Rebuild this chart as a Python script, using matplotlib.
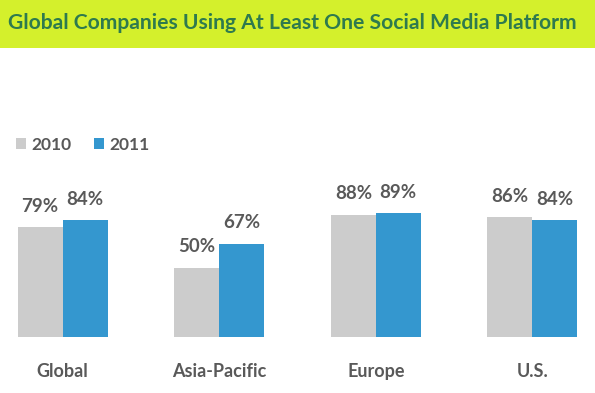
import matplotlib
matplotlib.use("Agg")
import matplotlib.pyplot as plt
from matplotlib.patches import Rectangle
import numpy as np

plt.rcParams['font.family'] = ['Lato', 'DejaVu Sans']

# dados do gráfico
regioes = ["Global", "Asia-Pacific", "Europe", "U.S."]
anos = ["2010", "2011"]
valores_2010 = [79, 50, 88, 86]
valores_2011 = [84, 67, 89, 84]

cor_2010 = "#cccccc"
cor_2011 = "#3497cf"
cor_texto = "#595959"

W, H = 595, 393
fig = plt.figure(figsize=(W / 100, H / 100), dpi=100)
fig.patch.set_facecolor("white")

# faixa do título
fig.patches.append(Rectangle((0, 1 - 48 / H), 1, 48 / H, transform=fig.transFigure,
                             facecolor="#d4f02c", edgecolor="none", zorder=0))
fig.text(8 / W, 1 - 23 / H, "Global Companies Using At Least One Social Media Platform",
         fontsize=15.2, fontweight="bold", color="#2e7a4e", va="center", ha="left")

ax = fig.add_axes([0, 56 / H, 1, 139 / H])
x = np.arange(len(regioes))
largura = 0.287

b1 = ax.bar(x - largura / 2, valores_2010, largura, color=cor_2010, label=anos[0])
b2 = ax.bar(x + largura / 2, valores_2011, largura, color=cor_2011, label=anos[1])

for barras in (b1, b2):
    for b in barras:
        ax.annotate(f"{b.get_height():.0f}%", (b.get_x() + b.get_width() / 2, b.get_height()),
                    xytext=(0, 9), textcoords="offset points", ha="center", va="bottom",
                    fontsize=13.5, fontweight="bold", color=cor_texto, annotation_clip=False)

ax.set_xlim(-0.4, 3.4)
ax.set_ylim(0, 100)
ax.set_xticks(x)
ax.set_xticklabels(regioes, fontsize=13, fontweight="bold", color=cor_texto)
ax.tick_params(axis="x", length=0, pad=19)
ax.set_yticks([])
for s in ax.spines.values():
    s.set_visible(False)

fig.legend(loc="center left", bbox_to_anchor=(0, 1 - 145 / H), ncol=2, frameon=False,
           handlelength=0.6, handleheight=0.6, handletextpad=0.3, columnspacing=1.3,
           prop={"size": 12.5, "weight": "bold"}, labelcolor=cor_texto)

fig.savefig("out.png", dpi=100)
